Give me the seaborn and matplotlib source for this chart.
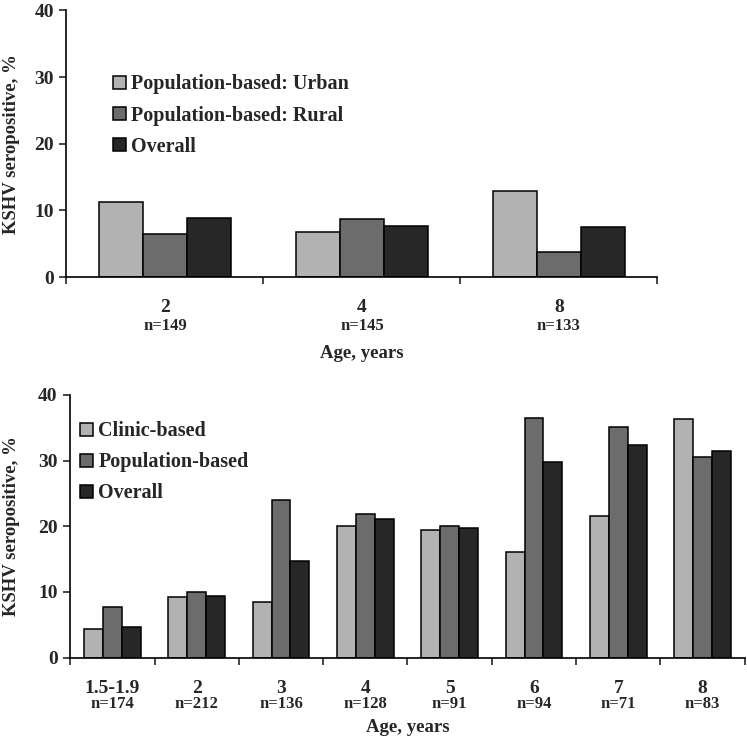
import numpy as np
import pandas as pd
import seaborn as sns
import matplotlib.pyplot as plt
from matplotlib.ticker import FixedLocator

# top panel: population-based, urban vs rural
top_ages = ['2', '4', '8']
top_n = ['n=149', 'n=145', 'n=133']
top_groups = ['Population-based: Urban', 'Population-based: Rural', 'Overall']
top_urban = [11.2, 6.7, 12.95]
top_rural = [6.45, 8.65, 3.8]
top_overall = [8.8, 7.65, 7.55]

# bottom panel: clinic vs population
bot_ages = ['1.5-1.9', '2', '3', '4', '5', '6', '7', '8']
bot_n = ['n=174', 'n=212', 'n=136', 'n=128', 'n=91', 'n=94', 'n=71', 'n=83']
bot_groups = ['Clinic-based', 'Population-based', 'Overall']
bot_clinic = [4.3, 9.25, 8.5, 20.0, 19.4, 16.1, 21.5, 36.4]
bot_pop = [7.7, 9.95, 24.0, 21.9, 20.0, 36.5, 35.1, 30.5]
bot_overall = [4.6, 9.4, 14.7, 21.1, 19.8, 29.8, 32.4, 31.4]

colors = ['#b2b2b2', '#6c6c6c', '#272727']

sns.set_style('white')
plt.rcParams['font.family'] = ['Liberation Serif', 'DejaVu Serif']
plt.rcParams['font.weight'] = 'bold'


def long_df(ages, groups, series):
    rows = []
    for g, vals in zip(groups, series):
        for a, v in zip(ages, vals):
            rows.append({'age': a, 'group': g, 'value': v})
    return pd.DataFrame(rows)


def draw_panel(ax, ages, nlabels, groups, series, legend_anchor,
               n_y, xlab_y, ylab_x):
    df = long_df(ages, groups, series)
    sns.barplot(data=df, x='age', y='value', hue='group', order=ages,
                hue_order=groups, palette=colors, edgecolor='black',
                linewidth=1.1, width=0.67, ax=ax)
    n = len(ages)
    ax.set_xlim(-0.5, n - 0.5)
    ax.set_ylim(0, 40)
    ax.set_yticks([0, 10, 20, 30, 40])
    ax.tick_params(axis='y', direction='out', length=5, width=1.2,
                   labelsize=14, left=True, pad=4)
    ax.tick_params(axis='x', which='major', length=0, labelsize=14, pad=16)
    ax.xaxis.set_minor_locator(FixedLocator(np.arange(-0.5, n, 1.0)))
    ax.tick_params(axis='x', which='minor', direction='out', length=5,
                   width=1.2, bottom=True)
    for lab in ax.get_xticklabels() + ax.get_yticklabels():
        lab.set_fontweight('bold')
    # sample sizes under each age label
    for i, t in enumerate(nlabels):
        ax.text(i, n_y, t, transform=ax.get_xaxis_transform(),
                ha='center', va='center', fontsize=12, fontweight='bold')
    sns.despine(ax=ax)
    for s in ['left', 'bottom']:
        ax.spines[s].set_linewidth(1.2)
        ax.spines[s].set_color('black')
    ax.set_ylabel('KSHV seropositive, %', fontsize=13.5, fontweight='bold')
    ax.yaxis.set_label_coords(ylab_x, 0.5)
    ax.set_xlabel('Age, years', fontsize=13.5, fontweight='bold')
    ax.xaxis.set_label_coords(0.5, xlab_y)
    ax.xaxis.label.set_va('center')
    ax.legend(frameon=False, loc='upper left', bbox_to_anchor=legend_anchor,
              handlelength=0.65, handleheight=0.65,
              handletextpad=0.25, labelspacing=0.55, borderaxespad=0,
              prop={'weight': 'bold', 'size': 14.5})


fig = plt.figure(figsize=(7.47, 7.43), dpi=100)
ax1 = fig.add_axes([0.089, 0.627, 0.791, 0.359])
ax2 = fig.add_axes([0.094, 0.115, 0.903, 0.3535])

draw_panel(ax1, top_ages, top_n, top_groups,
           [top_urban, top_rural, top_overall], (0.065, 0.79),
           -0.185, -0.285, -0.078)
draw_panel(ax2, bot_ages, bot_n, bot_groups,
           [bot_clinic, bot_pop, bot_overall], (0.003, 0.93),
           -0.176, -0.267, -0.074)

fig.savefig('out.png', dpi=100)
